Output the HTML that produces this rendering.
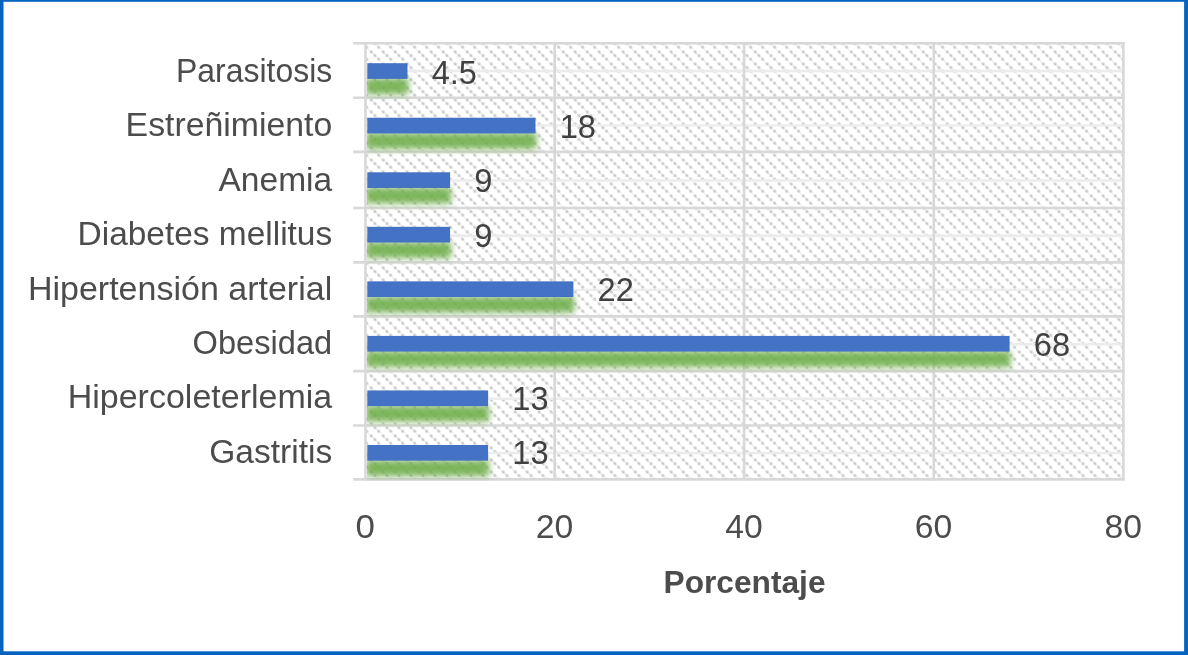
<!DOCTYPE html>
<html lang="es"><head><meta charset="utf-8"><title>Porcentaje</title>
<style>html,body{margin:0;padding:0;background:#fff;}body{width:1188px;height:655px;overflow:hidden;}svg{display:block;}text{font-family:"Liberation Sans",sans-serif;}</style>
</head><body>
<svg width="1188" height="655" viewBox="0 0 1188 655">
<defs>
<radialGradient id="dot"><stop offset="0" stop-color="#c2c2c2" stop-opacity="1"/><stop offset="0.45" stop-color="#c8c8c8" stop-opacity="0.75"/><stop offset="1" stop-color="#d0d0d0" stop-opacity="0"/></radialGradient>
<pattern id="hatch" width="12.0" height="12.0" patternUnits="userSpaceOnUse" x="9.10" y="2.00">
<path d="M-1 -1.2 L13 12.8" stroke="#eeeeee" stroke-width="1.4" fill="none"/>
<circle cx="2.20" cy="2.00" r="2.3" fill="url(#dot)"/>
<circle cx="5.90" cy="5.60" r="2.3" fill="url(#dot)"/>
<circle cx="9.60" cy="9.20" r="2.3" fill="url(#dot)"/>
</pattern>
<filter id="blur" x="-5%" y="-80%" width="110%" height="260%"><feGaussianBlur stdDeviation="3.2"/></filter>
<clipPath id="plotclip"><rect x="367.0" y="41.2" width="758.4" height="439.7"/></clipPath>
</defs>
<rect x="0" y="0" width="1188" height="655" fill="#ffffff"/>
<rect x="365.5" y="43.2" width="757.9" height="436.2" fill="url(#hatch)"/>
<g stroke="#ececec" stroke-width="2.4">
<line x1="365.5" y1="71.00" x2="1123.4" y2="71.00"/>
<line x1="365.5" y1="125.35" x2="1123.4" y2="125.35"/>
<line x1="365.5" y1="180.45" x2="1123.4" y2="180.45"/>
<line x1="365.5" y1="235.70" x2="1123.4" y2="235.70"/>
<line x1="365.5" y1="289.90" x2="1123.4" y2="289.90"/>
<line x1="365.5" y1="344.25" x2="1123.4" y2="344.25"/>
<line x1="365.5" y1="398.80" x2="1123.4" y2="398.80"/>
<line x1="365.5" y1="452.95" x2="1123.4" y2="452.95"/>
</g>
<g stroke="#d8d8d8" stroke-width="2.6">
<line x1="353.2" y1="43.20" x2="1124.7" y2="43.20"/>
<line x1="353.2" y1="97.80" x2="1124.7" y2="97.80"/>
<line x1="353.2" y1="151.90" x2="1124.7" y2="151.90"/>
<line x1="353.2" y1="208.00" x2="1124.7" y2="208.00"/>
<line x1="353.2" y1="262.40" x2="1124.7" y2="262.40"/>
<line x1="353.2" y1="316.40" x2="1124.7" y2="316.40"/>
<line x1="353.2" y1="371.10" x2="1124.7" y2="371.10"/>
<line x1="353.2" y1="425.50" x2="1124.7" y2="425.50"/>
<line x1="353.2" y1="479.40" x2="1124.7" y2="479.40"/>
<line x1="365.50" y1="42.0" x2="365.50" y2="480.6"/>
<line x1="554.70" y1="42.0" x2="554.70" y2="480.6"/>
<line x1="744.10" y1="42.0" x2="744.10" y2="480.6"/>
<line x1="933.80" y1="42.0" x2="933.80" y2="480.6"/>
<line x1="1123.40" y1="42.0" x2="1123.40" y2="480.6"/>
</g>
<g clip-path="url(#plotclip)"><g filter="url(#blur)" fill="#6fae4c" opacity="0.9">
<rect x="365.5" y="78.2" width="43.0" height="16.3"/>
<rect x="365.5" y="132.7" width="171.0" height="16.3"/>
<rect x="365.5" y="187.3" width="85.6" height="16.3"/>
<rect x="365.5" y="241.8" width="85.6" height="16.3"/>
<rect x="365.5" y="296.4" width="208.9" height="16.3"/>
<rect x="365.5" y="350.9" width="645.1" height="16.3"/>
<rect x="365.5" y="405.4" width="123.6" height="16.3"/>
<rect x="365.5" y="460.0" width="123.6" height="16.3"/>
</g></g>
<g fill="#4472c4">
<rect x="367.3" y="63.20" width="40.2" height="15.7"/>
<rect x="367.3" y="117.74" width="168.2" height="15.7"/>
<rect x="367.3" y="172.28" width="82.8" height="15.7"/>
<rect x="367.3" y="226.82" width="82.8" height="15.7"/>
<rect x="367.3" y="281.36" width="206.1" height="15.7"/>
<rect x="367.3" y="335.90" width="642.3" height="15.7"/>
<rect x="367.3" y="390.44" width="120.8" height="15.7"/>
<rect x="367.3" y="444.98" width="120.8" height="15.7"/>
</g>
<g font-size="32.5" fill="#4c4c4c">
<text x="176.0" y="81.8" textLength="156.2" lengthAdjust="spacingAndGlyphs">Parasitosis</text>
<text x="125.6" y="136.2" textLength="206.6" lengthAdjust="spacingAndGlyphs">Estreñimiento</text>
<text x="218.5" y="190.7" textLength="113.7" lengthAdjust="spacingAndGlyphs">Anemia</text>
<text x="77.6" y="245.1" textLength="254.6" lengthAdjust="spacingAndGlyphs">Diabetes mellitus</text>
<text x="27.9" y="299.5" textLength="304.3" lengthAdjust="spacingAndGlyphs">Hipertensión arterial</text>
<text x="192.6" y="353.9" textLength="139.6" lengthAdjust="spacingAndGlyphs">Obesidad</text>
<text x="67.7" y="408.4" textLength="264.5" lengthAdjust="spacingAndGlyphs">Hipercoleterlemia</text>
<text x="209.3" y="462.8" textLength="122.9" lengthAdjust="spacingAndGlyphs">Gastritis</text>
</g>
<g font-size="33" fill="#404040">
<text x="431.7" y="83.6" textLength="45.3" lengthAdjust="spacingAndGlyphs">4.5</text>
<text x="559.7" y="138.0" textLength="36.3" lengthAdjust="spacingAndGlyphs">18</text>
<text x="474.3" y="192.4" textLength="18.2" lengthAdjust="spacingAndGlyphs">9</text>
<text x="474.3" y="246.8" textLength="18.2" lengthAdjust="spacingAndGlyphs">9</text>
<text x="597.6" y="301.2" textLength="36.3" lengthAdjust="spacingAndGlyphs">22</text>
<text x="1033.8" y="355.6" textLength="36.3" lengthAdjust="spacingAndGlyphs">68</text>
<text x="512.3" y="410.0" textLength="36.3" lengthAdjust="spacingAndGlyphs">13</text>
<text x="512.3" y="464.4" textLength="36.3" lengthAdjust="spacingAndGlyphs">13</text>
</g>
<g font-size="32.4" fill="#4c4c4c" text-anchor="middle">
<text x="365.3" y="537.5" textLength="19.4" lengthAdjust="spacingAndGlyphs">0</text>
<text x="554.5" y="537.5" textLength="37.5" lengthAdjust="spacingAndGlyphs">20</text>
<text x="743.9" y="537.5" textLength="37.5" lengthAdjust="spacingAndGlyphs">40</text>
<text x="933.6" y="537.5" textLength="37.5" lengthAdjust="spacingAndGlyphs">60</text>
<text x="1123.2" y="537.5" textLength="37.5" lengthAdjust="spacingAndGlyphs">80</text>
</g>
<text x="663.5" y="593.3" font-size="31" font-weight="bold" fill="#4c4c4c" textLength="162.0" lengthAdjust="spacingAndGlyphs">Porcentaje</text>
<g fill="#0564c0">
<rect x="0" y="0" width="1188" height="1.8"/>
<rect x="0" y="0" width="3.5" height="655"/>
<rect x="1184.1" y="0" width="3.9" height="655"/>
<rect x="0" y="651.3" width="1188" height="3.7"/>
</g>
</svg>
</body></html>
